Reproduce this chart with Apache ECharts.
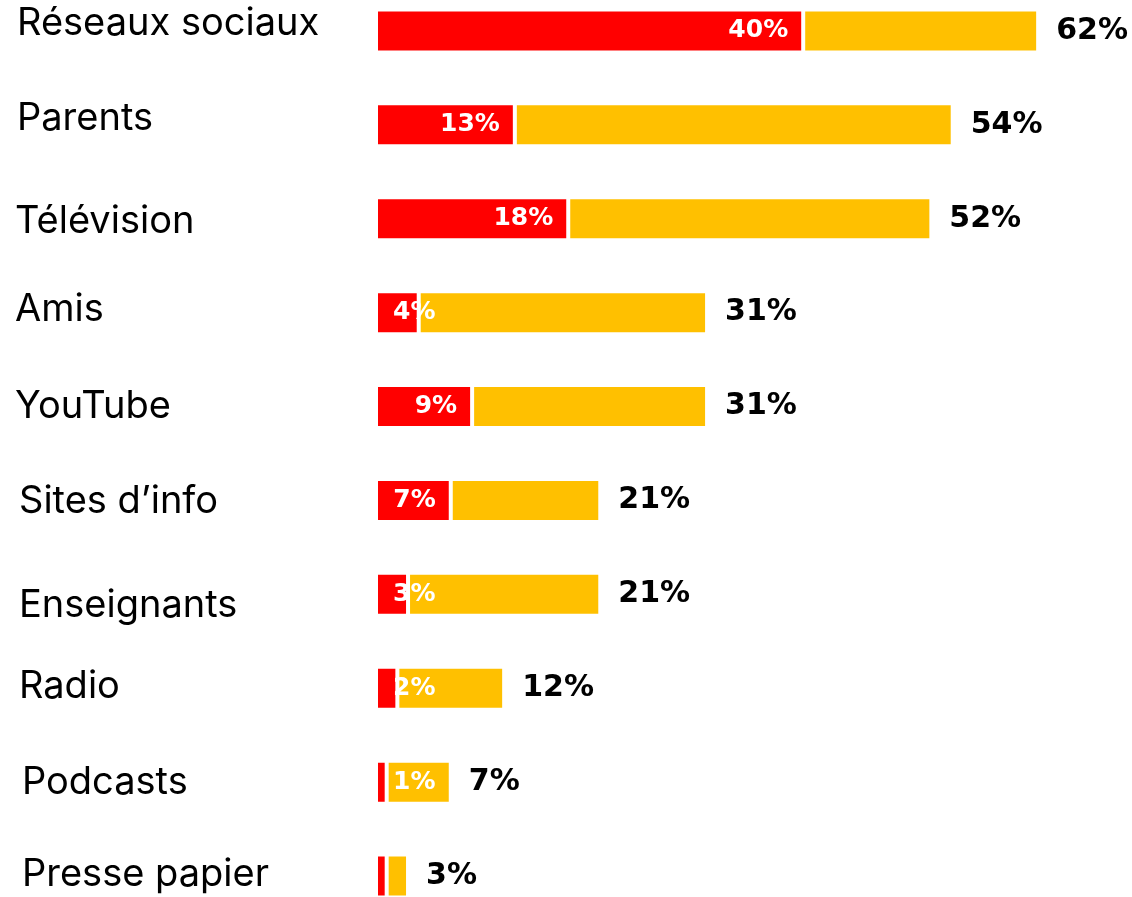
<!DOCTYPE html>
<html>
<head>
<meta charset="utf-8">
<script src="https://cdn.jsdelivr.net/npm/echarts@6/dist/echarts.min.js"></script>
<style>
html,body{margin:0;padding:0;background:#fff;overflow:hidden;width:1132px;height:897px;}
#chart{position:absolute;left:0;top:-16px;width:1132px;height:939px;}
</style>
</head>
<body>
<div id="chart"></div>
<script>
var categories = ['Réseaux sociaux','Parents','Télévision','Amis','YouTube','Sites d’info','Enseignants','Radio','Podcasts','Presse papier'];
var redValues = [40,13,18,4,9,7,3,2,1,1];
var totalValues = [62,54,52,31,31,21,21,12,7,3];
var redLabels = ['40%','13%','18%','4%','9%','7%','3%','2%','1%',''];
var totalLabels = ['62%','54%','52%','31%','31%','21%','21%','12%','7%','3%'];

// small hand-placement offsets of the category texts (layout only)
var labelDx = [2,2,0,0,0,4,4,4,7,7];
var labelDy = [-7,-6.5,2.5,-3.5,0,1,11,-2,0,-1];

var restValues = totalValues.map(function(t,i){ return t - redValues[i]; });

var chart = echarts.init(document.getElementById('chart'), null, {renderer:'canvas'});

var redData = redValues.map(function(v,i){
  var small = v <= 4;
  return {
    value: v,
    label: {
      show: redLabels[i] !== '',
      position: small ? 'insideLeft' : 'insideRight',
      distance: small ? 17 : 15
    }
  };
});

var rich = {};
categories.forEach(function(c,i){
  var dy = labelDy[i];
  rich['l'+i] = {
    fontFamily:'Inter', fontSize:38, color:'#000',
    padding:[dy>0 ? 2*dy : 0, 0, dy<0 ? -2*dy : 0, labelDx[i]]
  };
});

var option = {
  animation: false,
  backgroundColor: '#ffffff',
  grid: {left: 376, top: 0, bottom: 0, width: 747.6, containLabel: false},
  xAxis: {type:'value', min:0, max:70, show:false},
  yAxis: {
    type:'category', data: categories, inverse: true,
    axisLine:{show:false}, axisTick:{show:false},
    axisLabel:{align:'left', margin:361, color:'#000', fontFamily:'Inter', fontSize:38,
      formatter:function(v, idx){ return '{l' + idx + '|' + v + '}'; },
      rich: rich}
  },
  series: [
    {
      type:'bar', stack:'a', data: redData, barWidth: 43,
      itemStyle:{color:'#FF0000', borderColor:'#ffffff', borderWidth:2},
      label:{show:true, color:'#ffffff', fontFamily:'DejaVu Sans', fontWeight:'bold', fontSize:25,
        formatter:function(p){ return redLabels[p.dataIndex]; }}
    },
    {
      type:'bar', stack:'a', data: restValues, barWidth: 43,
      itemStyle:{color:'#FFC000', borderColor:'#ffffff', borderWidth:2},
      label:{show:true, position:'right', distance:18, color:'#000', fontFamily:'DejaVu Sans', fontWeight:'bold', fontSize:30,
        formatter:function(p){ return totalLabels[p.dataIndex]; }}
    }
  ]
};
chart.setOption(option);
</script>
</body>
</html>
